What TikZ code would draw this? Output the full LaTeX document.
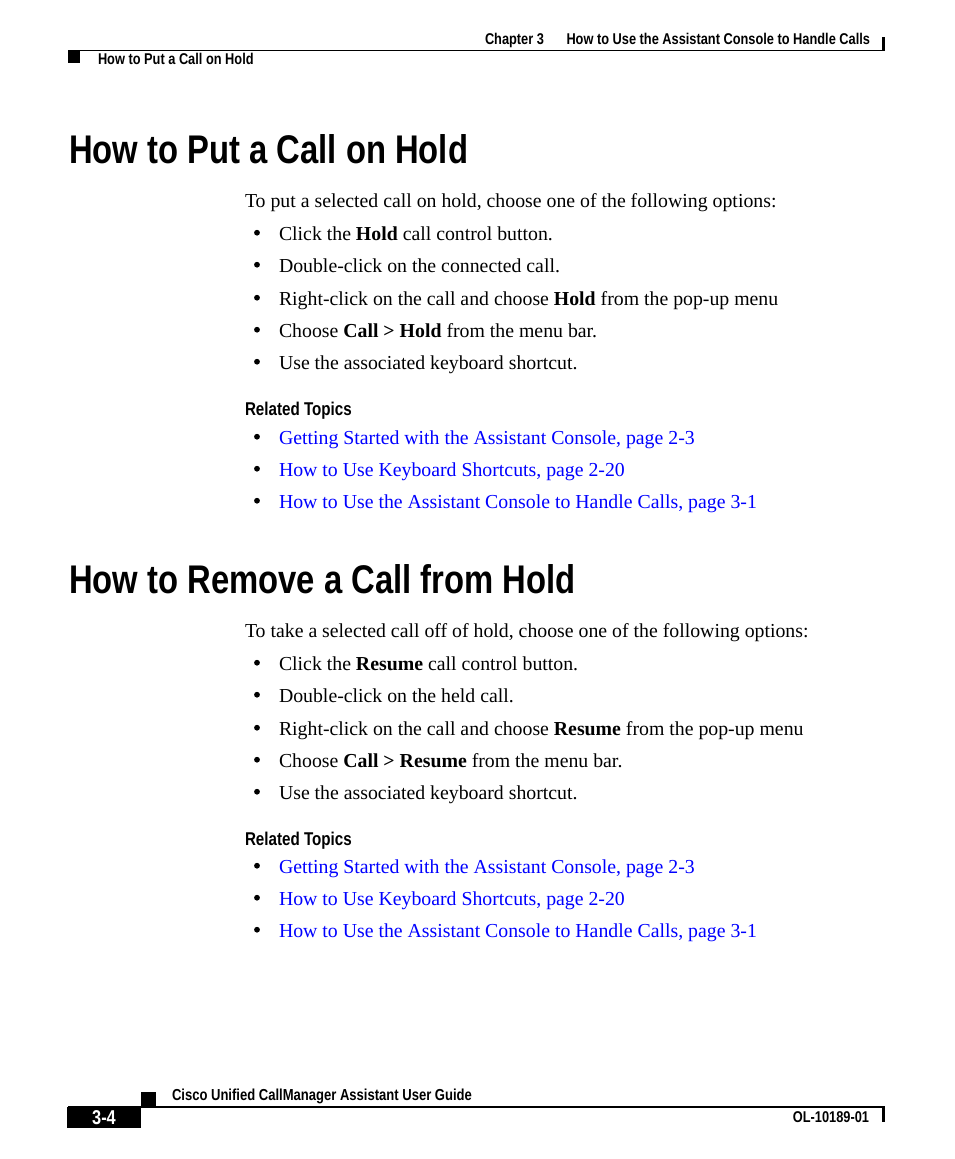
\documentclass[tikz,border=0pt]{standalone}
\usepackage{fontspec}
\setmainfont{Liberation Serif}
\newfontfamily\condb[FakeStretch=0.82]{Liberation Sans}
\definecolor{linkblue}{RGB}{0,0,255}
\tikzset{
  txt/.style={anchor=base west,inner sep=0pt,outer sep=0pt,font=\fontsize{19.8}{24}\selectfont},
  link/.style={txt,text=linkblue},
  bul/.style={circle,fill=black,inner sep=0pt,outer sep=0pt,minimum size=5.8pt},
  head/.style={anchor=base west,inner sep=0pt,outer sep=0pt,font=\condb\bfseries\fontsize{40}{48}\selectfont},
  rel/.style={anchor=base west,inner sep=0pt,outer sep=0pt,font=\condb\bfseries\fontsize{18.5}{22}\selectfont},
  small/.style={inner sep=0pt,outer sep=0pt,font=\condb\bfseries\fontsize{15.6}{18}\selectfont},
  rulel/.style={line width=1.2pt,black},
}
\begin{document}
\begin{tikzpicture}[x=1pt,y=-1pt]
\useasboundingbox (0,0) rectangle (954,1159);
\fill[white] (0,0) rectangle (954,1159);
% header
\draw[rulel] (68,50.5) -- (885,50.5);
\fill[black] (882,37) rectangle (885,50);
\fill[black] (68,51) rectangle (80,63);
\node[small,anchor=base west] (hchap) at (485,44) {Chapter 3};
\node[small,anchor=base east] (htitle) at (870,44) {How to Use the Assistant Console to Handle Calls};
\node[small,anchor=base west] (hsec) at (98,64) {How to Put a Call on Hold};
% section 1
\node[head] (h1) at (69,163) {How to Put a Call on Hold};
\node[txt] (i1) at (245,207) {To put a selected call on hold, choose one of the following options:};
\foreach \y/\t [count=\k] in {240/{Click the \textbf{Hold} call control button.},
  272/{Double-click on the connected call.},
  305/{Right-click on the call and choose \textbf{Hold} from the pop-up menu},
  337/{Choose \textbf{Call > Hold} from the menu bar.},
  369/{Use the associated keyboard shortcut.}}{
  \node[bul] (ab\k) at (257,\y-7.3) {};
  \node[txt] (a\k) at (279,\y) {\t};
}
\node[rel] (r1) at (245,415) {Related Topics};
\foreach \y/\t [count=\k] in {444/{Getting Started with the Assistant Console, page 2-3},
  476/{How to Use Keyboard Shortcuts, page 2-20},
  508/{How to Use the Assistant Console to Handle Calls, page 3-1}}{
  \node[bul] (lb\k) at (257,\y-7.3) {};
  \node[link] (l\k) at (279,\y) {\t};
}
% section 2
\node[head] (h2) at (69,593) {How to Remove a Call from Hold};
\node[txt] (i2) at (245,637) {To take a selected call off of hold, choose one of the following options:};
\foreach \y/\t [count=\k] in {670/{Click the \textbf{Resume} call control button.},
  702/{Double-click on the held call.},
  735/{Right-click on the call and choose \textbf{Resume} from the pop-up menu},
  767/{Choose \textbf{Call > Resume} from the menu bar.},
  799/{Use the associated keyboard shortcut.}}{
  \node[bul] (bb\k) at (257,\y-7.3) {};
  \node[txt] (b\k) at (279,\y) {\t};
}
\node[rel] (r2) at (245,845) {Related Topics};
\foreach \y/\t [count=\k] in {873/{Getting Started with the Assistant Console, page 2-3},
  905/{How to Use Keyboard Shortcuts, page 2-20},
  937/{How to Use the Assistant Console to Handle Calls, page 3-1}}{
  \node[bul] (mb\k) at (257,\y-7.3) {};
  \node[link] (m\k) at (279,\y) {\t};
}
% footer
\fill[black] (141,1092) rectangle (156,1107);
\draw[rulel] (68,1107) -- (885,1107);
\fill[black] (67,1107) rectangle (141,1128);
\fill[black] (882,1107) rectangle (885,1122);
\node[small,anchor=base west,font=\condb\bfseries\fontsize{15.9}{18}\selectfont] (fguide) at (172,1100) {Cisco Unified CallManager Assistant User Guide};
\node[small,anchor=base,text=white,font=\condb\bfseries\fontsize{20}{24}\selectfont] (fpage) at (104,1124) {3-4};
\node[small,anchor=base east] (fdoc) at (869,1122) {OL-10189-01};
\end{tikzpicture}
\end{document}
